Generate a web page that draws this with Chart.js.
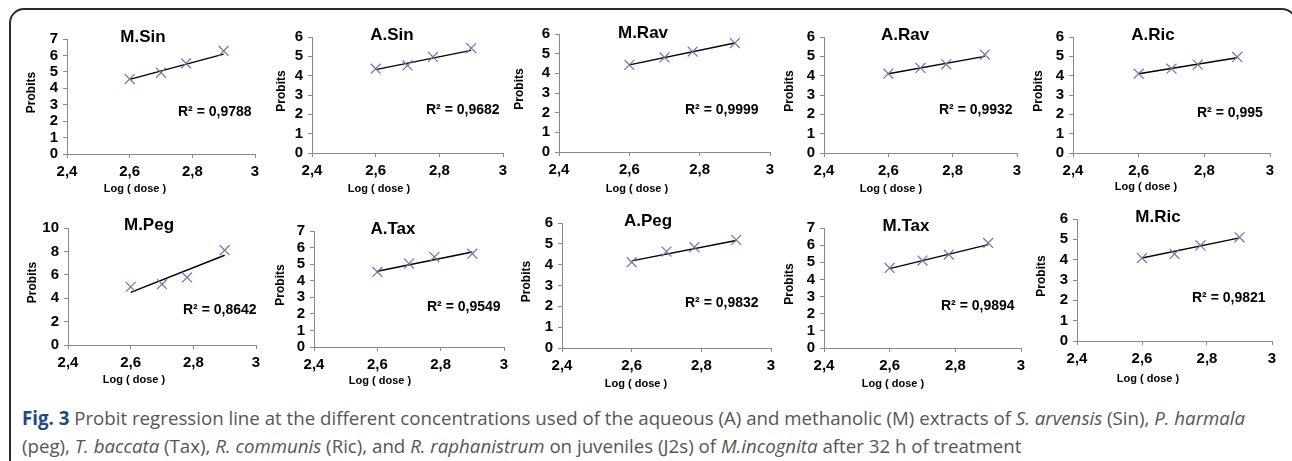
<!DOCTYPE html>
<html>
<head>
<meta charset="utf-8">
<script src="https://cdn.jsdelivr.net/npm/chart.js@4.4.1/dist/chart.umd.min.js"></script>
<style>
  html, body { margin: 0; padding: 0; background: #fff; }
  body { width: 1292px; height: 461px; position: relative; overflow: hidden; font-family: "Liberation Sans", Arial, sans-serif; }
  .frame { position: absolute; left: 9px; top: 8px; width: 1288px; height: 490px; border: 2px solid #2b2b2b; border-radius: 15px; box-sizing: border-box; }
  .panel { position: absolute; }
  .caption { position: absolute; left: 22px; height: 28px; line-height: 28px; font-family: "Open Sans", "Noto Sans", sans-serif; font-size: 19px; color: #555; white-space: nowrap; transform-origin: 0 50%; }
  .caption b { color: #1d4a80; }
</style>
</head>
<body>
<div class="frame"></div>
<div class="caption" id="cap1" style="top:404px"><b>Fig. 3</b> Probit regression line at the different concentrations used of the aqueous (A) and methanolic (M) extracts of <i>S. arvensis</i> (Sin), <i>P. harmala</i></div>
<div class="caption" id="cap2" style="top:432px">(peg), <i>T. baccata</i> (Tax), <i>R. communis</i> (Ric), and <i>R. raphanistrum</i> on juveniles (J2s) of <i>M.incognita</i> after 32 h of treatment</div>

<script>
// ================= DATA =================
const doseLog = [2.6, 2.7, 2.78, 2.9];
const xTickValues = [2.4, 2.6, 2.8, 3];
const xTickLabels = ["2,4", "2,6", "2,8", "3"];

const panelTitles = ["M.Sin", "A.Sin", "M.Rav", "A.Rav", "A.Ric", "M.Peg", "A.Tax", "A.Peg", "M.Tax", "M.Ric"];
const r2Labels = ["R² = 0,9788", "R² = 0,9682", "R² = 0,9999", "R² = 0,9932", "R² = 0,995",
                  "R² = 0,8642", "R² = 0,9549", "R² = 0,9832", "R² = 0,9894", "R² = 0,9821"];

// probits (points)
const mSin = [4.56, 4.95, 5.52, 6.27];
const aSin = [4.36, 4.53, 4.97, 5.43];
const mRav = [4.43, 4.81, 5.11, 5.54];
const aRav = [4.1, 4.4, 4.59, 5.09];
const aRic = [4.1, 4.36, 4.57, 4.97];
const mPeg = [4.97, 5.2, 5.77, 8.1];
const aTax = [4.53, 5.03, 5.43, 5.63];
const aPeg = [4.12, 4.63, 4.84, 5.19];
const mTax = [4.67, 5.1, 5.45, 6.13];
const mRic = [4.08, 4.28, 4.7, 5.1];

// trend line ends (at 2,6 and 2,9)
const mSinTrend = [4.54, 6.08];
const aSinTrend = [4.31, 5.31];
const mRavTrend = [4.43, 5.54];
const aRavTrend = [4.1, 5.0];
const aRicTrend = [4.1, 4.93];
const mPegTrend = [4.49, 7.67];
const aTaxTrend = [4.57, 5.73];
const aPegTrend = [4.18, 5.16];
const mTaxTrend = [4.63, 6.03];
const mRicTrend = [4.08, 5.07];

const yMaxs = [7, 6, 6, 6, 6, 10, 7, 6, 7, 6];
const ySteps = [1, 1, 1, 1, 1, 2, 1, 1, 1, 1];

const panelSeries = [mSin, aSin, mRav, aRav, aRic, mPeg, aTax, aPeg, mTax, mRic];
const panelTrends = [mSinTrend, aSinTrend, mRavTrend, aRavTrend, aRicTrend, mPegTrend, aTaxTrend, aPegTrend, mTaxTrend, mRicTrend];

// ================= LAYOUT (page px) =================
const layout = [
  { plot: [67, 39, 255, 154], title: [143, 37], probitsX: 32, r2: [178, 112], logDose: [135, 189] },
  { plot: [312, 37, 503, 153], title: [392, 35], probitsX: 282, r2: [426, 110], logDose: [379, 189] },
  { plot: [559, 34, 770, 152], title: [643, 33], probitsX: 520, r2: [685, 110], logDose: [637, 189] },
  { plot: [824, 37, 1017, 153], title: [905, 35], probitsX: 790, r2: [939, 110], logDose: [891, 189] },
  { plot: [1073, 37, 1270, 153], title: [1153, 35], probitsX: 1039, r2: [1197, 113], logDose: [1146, 187] },
  { plot: [68, 228, 256, 345], title: [149, 225], probitsX: 33, r2: [183, 310], logDose: [134, 380] },
  { plot: [314, 231, 504, 347], title: [393, 229], probitsX: 281, r2: [427, 307], logDose: [380, 381] },
  { plot: [562, 223, 771, 348], title: [648, 221], probitsX: 527, r2: [685, 303], logDose: [636, 384] },
  { plot: [824, 228, 1021, 348], title: [906, 226], probitsX: 790, r2: [941, 306], logDose: [893, 384] },
  { plot: [1077, 219, 1272, 341], title: [1158, 217], probitsX: 1042, r2: [1192, 298], logDose: [1148, 379] },
];

const PAD_L = 62, PAD_T = 14, PAD_R = 14, PAD_B = 52;
const FONT = '"Liberation Sans", Arial, sans-serif';
const AXIS_GREY = "#8a8a8a";
const MARK = "#7f6ba8";

// ================= TEXT PLUGIN =================
function panelText(i, ox, oy) {
  const lay = layout[i];
  return {
    id: "panelText" + i,
    afterDraw(chart) {
      const ctx = chart.ctx;
      const [l, t, r, b] = lay.plot;
      ctx.save();
      ctx.fillStyle = "#000";
      ctx.textBaseline = "middle";

      ctx.font = "bold 17px " + FONT;
      ctx.textAlign = "center";
      ctx.fillText(panelTitles[i], lay.title[0] - ox, lay.title[1] - oy);

      ctx.font = "bold 14px " + FONT;
      ctx.textAlign = "left";
      ctx.fillText(r2Labels[i], lay.r2[0] - ox, lay.r2[1] - oy);

      ctx.font = "bold 11px " + FONT;
      ctx.textAlign = "center";
      ctx.fillText("Log ( dose )", lay.logDose[0] - ox, lay.logDose[1] - oy);

      ctx.font = "bold 12px " + FONT;
      ctx.translate(lay.probitsX - ox, (t + b) / 2 - 4 - oy);
      ctx.rotate(-Math.PI / 2);
      ctx.fillText("Probits", 0, 0);
      ctx.restore();
    },
  };
}

// ================= CHARTS =================
layout.forEach((lay, i) => {
  const [l, t, r, b] = lay.plot;
  const ox = l - PAD_L, oy = t - PAD_T;
  const w = r - l + PAD_L + PAD_R, h = b - t + PAD_T + PAD_B;

  const box = document.createElement("div");
  box.className = "panel";
  box.style.cssText = `left:${ox}px;top:${oy}px;width:${w}px;height:${h}px`;
  const cv = document.createElement("canvas");
  cv.width = w;
  cv.height = h;
  box.appendChild(cv);
  document.body.appendChild(box);

  const trend = panelTrends[i];

  new Chart(cv, {
    type: "scatter",
    data: {
      datasets: [
        {
          label: panelTitles[i],
          data: doseLog.map((x, k) => ({ x: x, y: panelSeries[i][k] })),
          pointStyle: "crossRot",
          pointRadius: 7,
          borderColor: MARK,
          backgroundColor: MARK,
          borderWidth: 1.2,
          showLine: false,
        },
        {
          label: "trend",
          type: "line",
          data: [
            { x: doseLog[0], y: trend[0] },
            { x: doseLog[doseLog.length - 1], y: trend[1] },
          ],
          borderColor: "#000",
          borderWidth: 1.4,
          pointRadius: 0,
          tension: 0,
        },
      ],
    },
    options: {
      responsive: false,
      animation: false,
      devicePixelRatio: 1,
      layout: { padding: { left: 0, top: PAD_T, right: PAD_R, bottom: 0 } },
      plugins: { legend: { display: false }, tooltip: { enabled: false }, title: { display: false } },
      scales: {
        x: {
          type: "linear",
          min: 2.4,
          max: 3,
          afterBuildTicks: (s) => { s.ticks = xTickValues.map((v) => ({ value: v })); },
          ticks: {
            callback: (v, idx) => xTickLabels[idx],
            font: { family: FONT, size: 15, weight: "bold" },
            color: "#000",
            padding: 5,
            maxRotation: 0,
            autoSkip: false,
          },
          grid: { drawOnChartArea: false, tickLength: 4, color: AXIS_GREY },
          border: { color: AXIS_GREY, width: 1 },
          afterFit: (s) => { s.height = PAD_B; },
        },
        y: {
          type: "linear",
          min: 0,
          max: yMaxs[i],
          ticks: {
            stepSize: ySteps[i],
            autoSkip: false,
            font: { family: FONT, size: 15, weight: "bold" },
            color: "#000",
            padding: 5,
          },
          grid: { drawOnChartArea: false, tickLength: 4, color: AXIS_GREY },
          border: { color: AXIS_GREY, width: 1 },
          afterFit: (s) => { s.width = PAD_L; },
        },
      },
    },
    plugins: [panelText(i, ox, oy)],
  });
});

// ================= CAPTION FIT =================
const cap1 = document.getElementById("cap1");
const cap2 = document.getElementById("cap2");
const capScale = 1223 / cap1.scrollWidth;
cap1.style.transform = `scaleX(${capScale})`;
cap2.style.transform = `scaleX(${capScale})`;
</script>
</body>
</html>
